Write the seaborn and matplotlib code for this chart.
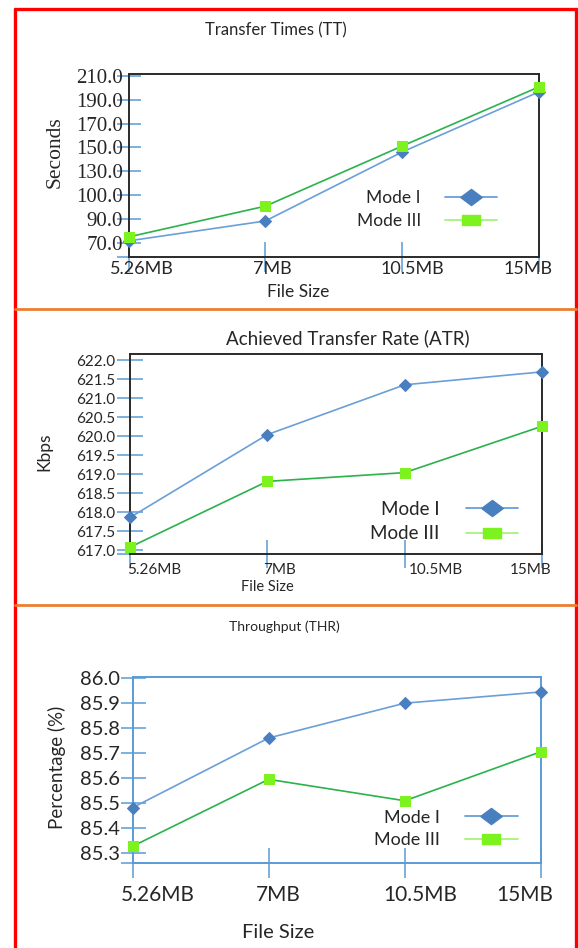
import numpy as np
import pandas as pd
import matplotlib
matplotlib.use("Agg")
import matplotlib.pyplot as plt
import matplotlib.transforms as mtransforms
from matplotlib.lines import Line2D
from matplotlib.ticker import FixedLocator, FormatStrFormatter
import seaborn as sns

# ---- data ----
sizes = ["5.26MB", "7MB", "10.5MB", "15MB"]

tt_mode1 = [71.7, 88.4, 146.2, 196.6]
tt_mode3 = [75.0, 95.4, 151.2, 200.8]
tt_ticks = [70, 90, 100, 130, 150, 170, 190, 210]

atr_mode1 = [617.86, 620.04, 621.35, 621.69]
atr_mode3 = [617.08, 618.81, 619.04, 620.26]
atr_ticks = [617.0, 617.5, 618.0, 618.5, 619.0, 619.5, 620.0, 620.5, 621.0, 621.5, 622.0]

thr_mode1 = [85.48, 85.76, 85.90, 85.945]
thr_mode3 = [85.325, 85.594, 85.508, 85.705]
thr_ticks = [85.3, 85.4, 85.5, 85.6, 85.7, 85.8, 85.9, 86.0]

modes = ["Mode I", "Mode III"]

# ---- style ----
sns.set_style("white")
plt.rcParams["font.family"] = ["Lato", "DejaVu Sans"]
TXT = "#262626"
TICK = "#5B9BD5"
M1_LINE, M1_MARK = "#6A9FD8", "#4A7FBF"
M3_LINE, M3_MARK, M3_LEG = "#2BB24C", "#7CF21E", "#A8F27E"
SERIF = ["Liberation Serif", "DejaVu Serif"]

W, H = 578, 948
fig = plt.figure(figsize=(W / 100, H / 100), dpi=100)
fig.patch.set_facecolor("white")


def px_axes(l, t, r, b):
    return fig.add_axes([l / W, 1 - b / H, (r - l) / W, (b - t) / H])


def ordinal_scale(ticks):
    # the TT axis has evenly spaced ticks with uneven values
    ticks = np.asarray(ticks, float)
    idx = np.arange(len(ticks), dtype=float)
    n = len(ticks)

    def fwd(v):
        v = np.asarray(v, float)
        p = np.interp(v, ticks, idx)
        p = np.where(v < ticks[0], (v - ticks[0]) / (ticks[1] - ticks[0]), p)
        p = np.where(v > ticks[-1], n - 1 + (v - ticks[-1]) / (ticks[-1] - ticks[-2]), p)
        return p

    def inv(p):
        p = np.asarray(p, float)
        v = np.interp(p, idx, ticks)
        v = np.where(p < 0, ticks[0] + p * (ticks[1] - ticks[0]), v)
        v = np.where(p > n - 1, ticks[-1] + (p - (n - 1)) * (ticks[-1] - ticks[-2]), v)
        return v

    return fwd, inv


def draw_panel(ax, m1, m3, ms=6.5):
    df = pd.DataFrame({"size": sizes * 2, "value": list(m1) + list(m3),
                       "mode": [modes[0]] * 4 + [modes[1]] * 4})
    specs = [(modes[0], M1_LINE, M1_MARK, "D"), (modes[1], M3_LINE, M3_MARK, "s")]
    for mode, lc, mc, mk in specs:
        sub = df[df["mode"] == mode]
        sns.lineplot(data=sub, x="size", y="value", ax=ax, color=lc, lw=1.2,
                     marker=mk, markersize=ms, markerfacecolor=mc, markeredgecolor=mc,
                     sort=False, legend=False, clip_on=False, zorder=3)
    ax.set_xlim(0, 3)


def style_ticks(ax, ylen, ypad, xlen, xpad, ysize, xsize, yfamily=None):
    ax.tick_params(axis="y", which="both", direction="inout", length=ylen, width=1.1,
                   color=TICK, pad=ypad, labelsize=ysize, labelcolor=TXT, left=True)
    ax.tick_params(axis="x", which="both", direction="inout", length=xlen, width=1.1,
                   color=TICK, pad=xpad, labelsize=xsize, labelcolor=TXT, bottom=True)
    if yfamily:
        for lab in ax.get_yticklabels():
            lab.set_family(yfamily)


def shift_xlabels(ax, offsets):
    for lab, dx in zip(ax.get_xticklabels(), offsets):
        lab.set_transform(lab.get_transform() +
                          mtransforms.ScaledTranslation(dx / fig.dpi, 0, fig.dpi_scale_trans))


def legend(ax, fx, fy, fs, hl):
    diamond = [(-1, 0), (0, 0.75), (1, 0), (0, -0.75), (-1, 0)]
    rect = [(-1, -0.55), (1, -0.55), (1, 0.55), (-1, 0.55), (-1, -0.55)]
    handles = [
        Line2D([], [], color=M1_LINE, lw=1.3, marker=diamond, markersize=15.5,
               markerfacecolor=M1_MARK, markeredgecolor=M1_MARK),
        Line2D([], [], color=M3_LEG, lw=1.3, marker=rect, markersize=12.5,
               markerfacecolor=M3_MARK, markeredgecolor=M3_MARK),
    ]
    leg = ax.legend(handles, modes, loc="center", bbox_to_anchor=(fx, fy), frameon=False,
                    markerfirst=False, handlelength=hl, handletextpad=1.4,
                    labelspacing=0.38, fontsize=fs, borderpad=0, borderaxespad=0)
    for t in leg.get_texts():
        t.set_color(TXT)


def spines(ax, color):
    for s in ax.spines.values():
        s.set_visible(True)
        s.set_color(color)
        s.set_linewidth(1.4)


# ---- panel 1: Transfer Times ----
ax1 = px_axes(128.5, 73.5, 539, 257)
fwd, inv = ordinal_scale(tt_ticks)
ax1.set_yscale("function", functions=(fwd, inv))
draw_panel(ax1, tt_mode1, tt_mode3)
ax1.set_ylim(58.2, 212)
ax1.yaxis.set_major_locator(FixedLocator(tt_ticks))
ax1.yaxis.set_major_formatter(FormatStrFormatter("%.1f"))
ax1.set_yticks([58.2], minor=True)
spines(ax1, "#2a2a2a")
style_ticks(ax1, 17, -4.3, 21.6, -7.9, 15, 13, yfamily=SERIF)
ax1.set_title("Transfer Times (TT)", x=0.359, y=1.237, va="center", pad=0,
              fontsize=12, color=TXT)
ax1.set_ylabel("Seconds", family=SERIF, fontsize=15.5, color=TXT, va="center")
ax1.yaxis.set_label_coords(-0.179, 0.572)
ax1.set_xlabel("File Size", fontsize=12.5, color=TXT, va="center")
ax1.xaxis.set_label_coords(0.413, -0.191)
legend(ax1, 0.727, 0.259, 12.5, 3.0)

# ---- panel 2: Achieved Transfer Rate ----
ax2 = px_axes(130, 354, 542, 554)
draw_panel(ax2, atr_mode1, atr_mode3)
ax2.set_ylim(616.9, 622.16)
ax2.yaxis.set_major_locator(FixedLocator(atr_ticks))
ax2.yaxis.set_major_formatter(FormatStrFormatter("%.1f"))
ax2.set_yticks([616.9], minor=True)
spines(ax2, "#2a2a2a")
style_ticks(ax2, 18.7, 1.4, 20, -3.6, 11, 11)
ax2.set_title("Achieved Transfer Rate (ATR)", x=0.529, y=1.08, va="center", pad=0,
              fontsize=13.5, color=TXT)
ax2.set_ylabel("Kbps", fontsize=12.5, color=TXT, va="center")
ax2.yaxis.set_label_coords(-0.2075, 0.51)
ax2.set_xlabel("File Size", fontsize=10.5, color=TXT, va="center")
ax2.xaxis.set_label_coords(0.3325, -0.165)
legend(ax2, 0.762, 0.1625, 13.5, 2.8)

# ---- panel 3: Throughput ----
ax3 = px_axes(132.5, 677, 541, 863)
draw_panel(ax3, thr_mode1, thr_mode3)
ax3.set_ylim(85.258, 86.005)
ax3.yaxis.set_major_locator(FixedLocator(thr_ticks))
ax3.yaxis.set_major_formatter(FormatStrFormatter("%.1f"))
ax3.set_yticks([85.258], minor=True)
spines(ax3, TICK)
style_ticks(ax3, 18, 0, 22, 4.7, 14.5, 15)
ax3.set_title("Throughput (THR)", x=0.371, y=1.269, va="center", pad=0,
              fontsize=10, color=TXT)
ax3.set_ylabel("Percentage (%)", fontsize=13.5, color=TXT, va="center")
ax3.yaxis.set_label_coords(-0.185, 0.516)
ax3.set_xlabel("File Size", fontsize=14.5, color=TXT, va="center")
ax3.xaxis.set_label_coords(0.356, -0.376)
legend(ax3, 0.767, 0.183, 13, 2.9)

# x tick label placement (labels sit off their ticks in the original)
shift_xlabels(ax1, [13.5, 6.7, 9.8, -11])
shift_xlabels(ax2, [24, 11.7, 31, -11])
shift_xlabels(ax3, [25, 9.3, 15.2, -16])

# ---- page frame ----
def fline(x0, y0, x1, y1, color, lw):
    fig.add_artist(Line2D([x0 / W, x1 / W], [1 - y0 / H, 1 - y1 / H], color=color, lw=lw))

fline(14.5, 9, 14.5, H, "#FF0000", 2.4)
fline(576, 9, 576, H, "#FF0000", 2.4)
fline(14.5, 9, 576, 9, "#FF0000", 2.4)
fline(15, 309, 576, 309, "#ED7D31", 2.0)
fline(15, 605, 576, 605, "#ED7D31", 2.0)

fig.savefig("out.png", dpi=100)
